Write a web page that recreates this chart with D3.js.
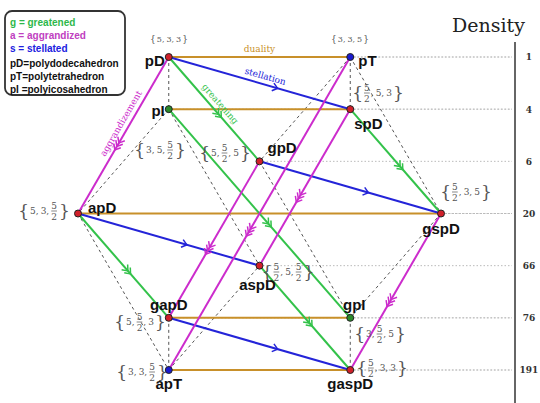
<!DOCTYPE html>
<html><head><meta charset="utf-8">
<script src="https://cdn.jsdelivr.net/npm/d3@7"></script>
<style>body{margin:0;background:#fff}</style>
</head><body>
<svg id="chart" width="540" height="403"></svg>
<script>
var densities = [1, 4, 6, 20, 66, 76, 191];
var nodeNames = ["pD", "pT", "pI", "spD", "gpD", "apD", "gspD", "aspD", "gapD", "gpI", "apT", "gaspD"];
var nodeCols = [1, 3, 1, 3, 2, 0, 4, 2, 1, 3, 1, 3];
var nodeDensity = [1, 1, 4, 4, 6, 20, 20, 66, 76, 76, 191, 191];
var nodeKind = ["d", "t", "i", "d", "d", "d", "d", "d", "d", "i", "t", "d"];
var symbols = [["5","3","3"], ["3","3","5"], ["3","5","5/2"], ["5/2","5","3"], ["5","5/2","5"], ["5","3","5/2"],
  ["5/2","3","5"], ["5/2","5","5/2"], ["5","5/2","3"], ["3","5/2","5"], ["3","3","5/2"], ["5/2","3","3"]];
var duality = [["pD","pT"], ["pI","spD"], ["apD","gspD"], ["gapD","gpI"], ["apT","gaspD"]];
var stellation = [["pD","spD"], ["gpD","gspD"], ["apD","aspD"], ["gapD","gaspD"]];
var greatening = [["pD","gpD"], ["pI","gpI"], ["spD","gspD"], ["apD","gapD"], ["aspD","gaspD"]];
var aggrandizement = [["pD","apD"], ["pT","apT"], ["spD","aspD"], ["gpD","gapD"], ["gspD","gaspD"]];
var faces = [["pD","pI"], ["pT","spD"], ["pT","gpD"], ["pT","gspD"], ["pI","apD"], ["pI","aspD"], ["gpD","gpI"],
  ["apD","apT"], ["gapD","apT"], ["apT","aspD"], ["gspD","gpI"], ["gpI","gaspD"]];
var legendLines = [["g = greatened", "#2db84a"], ["a = aggrandized", "#c040c0"], ["s = stellated", "#2020e0"],
  ["pD=polydodecahedron", "#111"], ["pT=polytetrahedron", "#111"], ["pI =polyicosahedron", "#111"]];

var svg = d3.select("#chart");
var x = d3.scalePoint().domain([0, 1, 2, 3, 4]).range([78, 441]);
var y = d3.scalePoint().domain(densities).range([57, 370]);

var pos = {};
nodeNames.forEach(function (n, i) { pos[n] = [x(nodeCols[i]), y(nodeDensity[i])]; });

// density axis
var axis = d3.axisRight(y).tickSize(0).tickPadding(14);
var ag = svg.append("g").attr("transform", "translate(515,0)").call(axis);
ag.select(".domain").remove();
ag.append("line").attr("y1", 42).attr("y2", 403).attr("stroke", "#666").attr("stroke-width", 2);
ag.selectAll("text").attr("text-anchor", "middle").attr("font-family", "DejaVu Serif").attr("font-weight", "bold").attr("font-size", 9).attr("fill", "#333");
svg.append("text").attr("x", 452).attr("y", 32).attr("font-family", "DejaVu Serif").attr("font-size", 19).attr("fill", "#222").text("Density");

// dotted density guides
nodeNames.forEach(function (n) {
  svg.append("line").attr("x1", pos[n][0]).attr("x2", 512).attr("y1", pos[n][1]).attr("y2", pos[n][1])
    .attr("stroke", "#bbb").attr("stroke-dasharray", "1.5,2");
});

function drawEdges(list, color, width, dash) {
  svg.append("g").selectAll("line").data(list).join("line")
    .attr("x1", function (d) { return pos[d[0]][0]; }).attr("y1", function (d) { return pos[d[0]][1]; })
    .attr("x2", function (d) { return pos[d[1]][0]; }).attr("y2", function (d) { return pos[d[1]][1]; })
    .attr("stroke", color).attr("stroke-width", width).attr("stroke-dasharray", dash || null);
}
function drawChevrons(list, color, count, t) {
  list.forEach(function (d) {
    var a = pos[d[0]], b = pos[d[1]];
    var ang = Math.atan2(b[1] - a[1], b[0] - a[0]) * 180 / Math.PI;
    for (var k = 0; k < count; k++) {
      var px = a[0] + (b[0] - a[0]) * t + Math.cos(ang * Math.PI / 180) * k * 4;
      var py = a[1] + (b[1] - a[1]) * t + Math.sin(ang * Math.PI / 180) * k * 4;
      svg.append("path").attr("d", "M-5,-4L0,0L-5,4").attr("fill", "none").attr("stroke", color).attr("stroke-width", 1.5)
        .attr("transform", "translate(" + px + "," + py + ") rotate(" + ang + ")");
    }
  });
}

drawEdges(faces, "#555", 1, "3,3");
drawEdges(duality, "#c8902a", 2);
drawEdges(stellation, "#2424d8", 2);
drawEdges(greatening, "#33c24a", 2);
drawEdges(aggrandizement, "#cc2ccc", 2);
drawChevrons(stellation, "#2424d8", 1, 0.6);
drawChevrons(greatening, "#33c24a", 2, 0.55);
drawChevrons(aggrandizement, "#cc2ccc", 3, 0.55);

// edge labels
function edgeLabel(a, b, t, off, txt, color) {
  var p = pos[a], q = pos[b];
  var ang = Math.atan2(q[1] - p[1], q[0] - p[0]) * 180 / Math.PI;
  if (ang > 90) ang -= 180;
  svg.append("text").attr("transform", "translate(" + (p[0] + (q[0] - p[0]) * t) + "," + (p[1] + (q[1] - p[1]) * t) + ") rotate(" + ang + ") translate(0," + off + ")")
    .attr("text-anchor", "middle").attr("font-family", "DejaVu Serif").attr("font-size", 9).attr("fill", color).text(txt);
}
edgeLabel("pD", "pT", 0.5, -5, "duality", "#c8902a");
edgeLabel("pD", "spD", 0.52, -5, "stellation", "#2424d8");
edgeLabel("pD", "gpD", 0.5, -5, "greatening", "#33c24a");
edgeLabel("pD", "apD", 0.45, -5, "aggrandizement", "#cc2ccc");

// nodes
var fills = { d: "#d0202a", t: "#1a1ad0", i: "#2a8a2a" };
nodeNames.forEach(function (n, i) {
  svg.append("circle").attr("cx", pos[n][0]).attr("cy", pos[n][1]).attr("r", 3.5)
    .attr("fill", fills[nodeKind[i]]).attr("stroke", "#222").attr("stroke-width", 1);
});

// node names
var nameOff = { pD: [-4, 9, "end"], pT: [8, 9, "start"], pI: [-4, 7, "end"], spD: [4, 20, "start"], gpD: [8, -8, "start"],
  apD: [10, -1, "start"], gspD: [0, 20, "middle"], aspD: [-2, 24, "middle"], gapD: [0, -8, "middle"], gpI: [4, -8, "middle"],
  apT: [0, 19, "middle"], gaspD: [0, 19, "middle"] };
nodeNames.forEach(function (n) {
  var o = nameOff[n];
  svg.append("text").attr("x", pos[n][0] + o[0]).attr("y", pos[n][1] + o[1]).attr("text-anchor", o[2])
    .attr("font-family", "Liberation Sans").attr("font-weight", "bold").attr("font-size", 15).attr("fill", "#111").text(n);
});

// Schläfli symbols with stacked fractions
var symPos = { pD: [169, 42], pT: [350, 42], pI: [160, 150], spD: [378, 93], gpD: [225, 153], apD: [44, 211],
  gspD: [466, 192], aspD: [288, 272], gapD: [140, 322], gpI: [380, 334], apT: [142, 372], gaspD: [382, 368] };
nodeNames.forEach(function (n, i) {
  var parts = symbols[i], hasFrac = parts.some(function (p) { return p.indexOf("/") >= 0; });
  var g = svg.append("g").attr("font-family", "DejaVu Serif").attr("fill", "#555");
  var cx = 0, fs = hasFrac ? 9 : 8;
  function put(txt, size, dy) {
    var t = g.append("text").attr("x", cx).attr("y", dy).attr("font-size", size).text(txt);
    return t.node().getComputedTextLength();
  }
  cx += put("{", hasFrac ? 17 : 9, hasFrac ? 6 : 3) + 1;
  parts.forEach(function (p, k) {
    if (p.indexOf("/") >= 0) {
      var f = p.split("/");
      var w = Math.max(put(f[0], fs, -2), 5);
      g.append("line").attr("x1", cx).attr("x2", cx + w).attr("y1", 0).attr("y2", 0).attr("stroke", "#555").attr("stroke-width", 0.7);
      put(f[1], fs, 9);
      cx += w + 1;
    } else {
      cx += put(p, fs, 3);
    }
    if (k < parts.length - 1) cx += put(",", fs, 3) + 2;
  });
  cx += 1;
  cx += put("}", hasFrac ? 17 : 9, hasFrac ? 6 : 3);
  g.attr("transform", "translate(" + (symPos[n][0] - cx / 2) + "," + (symPos[n][1] - (hasFrac ? 0 : 3)) + ")");
});

// legend
svg.append("rect").attr("x", 5).attr("y", 11).attr("width", 120).attr("height", 84).attr("rx", 7)
  .attr("fill", "#fff").attr("stroke", "#333").attr("stroke-width", 1.8);
svg.append("g").selectAll("text").data(legendLines).join("text")
  .attr("x", 10).attr("y", function (d, i) { return 26 + i * 13 + (i > 2 ? 2 : 0); })
  .attr("font-family", "Liberation Sans").attr("font-weight", "bold").attr("font-size", 10)
  .attr("fill", function (d) { return d[1]; }).text(function (d) { return d[0]; });
</script>
</body></html>
